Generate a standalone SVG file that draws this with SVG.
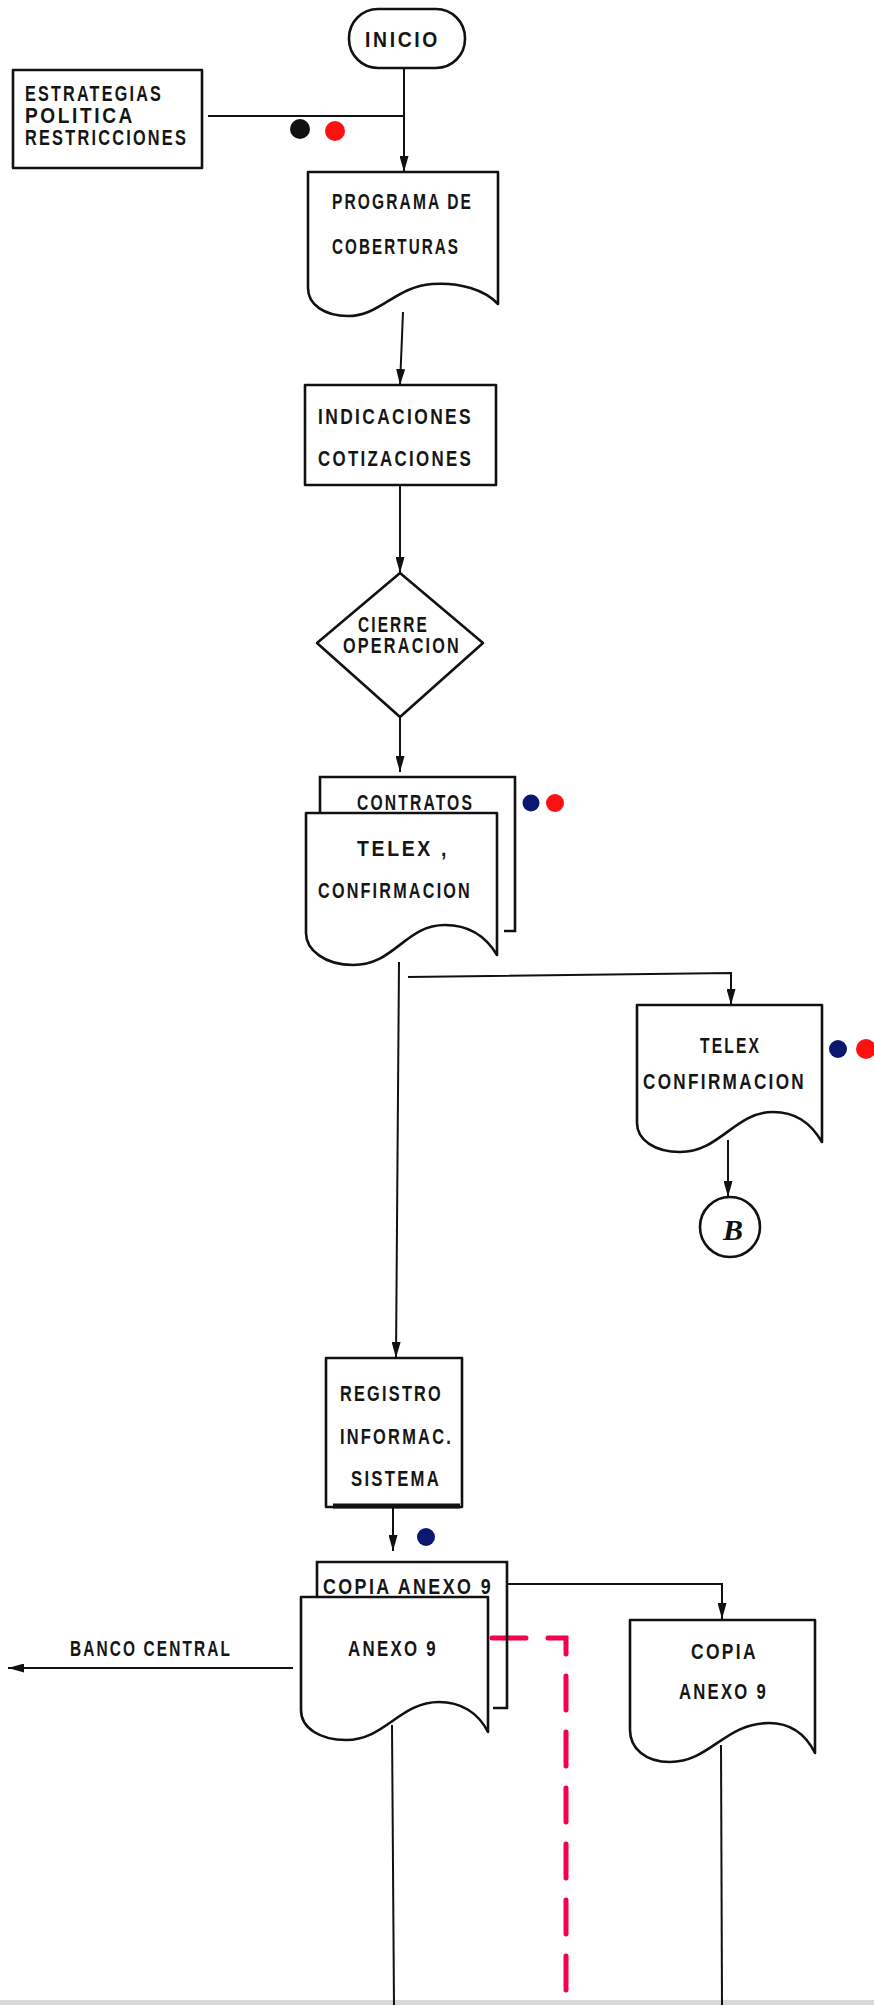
<svg xmlns="http://www.w3.org/2000/svg" width="874" height="2005" viewBox="0 0 874 2005">
<style>
.s{fill:#fff;stroke:#111;stroke-width:2.6;stroke-linejoin:round}
.o{fill:none;stroke:#111;stroke-width:2.6}
.c{fill:none;stroke:#111;stroke-width:2}
.t{font-family:"Liberation Sans","DejaVu Sans",sans-serif;font-size:22px;font-weight:bold;letter-spacing:3px;fill:#151515}
.rd{fill:none;stroke:#f5004a;stroke-width:5;stroke-dasharray:34 22;stroke-linecap:round}
</style>
<defs>
<marker id="ah" markerUnits="userSpaceOnUse" markerWidth="16" markerHeight="9" refX="16" refY="4.5" orient="auto">
<path d="M0,0 L16,4.5 L0,9 Z" fill="#111"/>
</marker>
</defs>
<rect width="874" height="2005" fill="#fff"/>
<rect x="0" y="2000" width="874" height="5" fill="#d8d8d8"/>

<g id="connectors">
<line class="c" x1="404" y1="68" x2="404" y2="172" marker-end="url(#ah)"/>
<line class="c" x1="208" y1="116" x2="404" y2="116"/>
<line class="c" x1="403" y1="312" x2="400" y2="385" marker-end="url(#ah)"/>
<line class="c" x1="400" y1="485" x2="400" y2="573" marker-end="url(#ah)"/>
<line class="c" x1="400" y1="717" x2="400" y2="772" marker-end="url(#ah)"/>
<line class="c" x1="399" y1="962" x2="396" y2="1358" marker-end="url(#ah)"/>
<polyline class="c" points="408,977 731,973 731,1005" marker-end="url(#ah)"/>
<line class="c" x1="728" y1="1140" x2="728" y2="1197" marker-end="url(#ah)"/>
<line class="c" x1="393" y1="1507" x2="393" y2="1551" marker-end="url(#ah)"/>
<polyline class="c" points="508,1584 722,1584 722,1619" marker-end="url(#ah)"/>
<line class="c" x1="293" y1="1668" x2="8" y2="1668" marker-end="url(#ah)"/>
<line class="c" x1="392" y1="1725" x2="394" y2="2005"/>
<line class="c" x1="721" y1="1745" x2="722" y2="2005"/>
<polyline class="rd" points="492,1638 566,1638 566,2010"/>
</g>

<g id="inicio">
<rect class="s" x="349" y="9" width="116" height="59" rx="29" ry="29"/>
<text class="t" x="365" y="47" font-size="24" textLength="75" lengthAdjust="spacingAndGlyphs">INICIO</text>
</g>

<g id="estrategias">
<rect class="s" x="13" y="70" width="189" height="98"/>
<text class="t" x="25" y="101" font-size="18" textLength="138" lengthAdjust="spacingAndGlyphs">ESTRATEGIAS</text>
<text class="t" x="25" y="123" font-size="18" textLength="110" lengthAdjust="spacingAndGlyphs">POLITICA</text>
<text class="t" x="25" y="145" font-size="18" textLength="163" lengthAdjust="spacingAndGlyphs">RESTRICCIONES</text>
</g>

<g id="dots1">
<circle cx="300" cy="129" r="10" fill="#111"/>
<circle cx="335" cy="131" r="10" fill="#ff1010"/>
</g>

<g id="programa">
<path class="s" d="M308,172 H498 V304 C485,290 460,282 432,284 C395,287 380,316 348,316 C325,316 308,305 308,288 Z"/>
<text class="t" x="332" y="209" textLength="141" lengthAdjust="spacingAndGlyphs">PROGRAMA DE</text>
<text class="t" x="332" y="254" textLength="128" lengthAdjust="spacingAndGlyphs">COBERTURAS</text>
</g>

<g id="indicaciones">
<rect class="s" x="305" y="385" width="191" height="100"/>
<text class="t" x="318" y="424" textLength="155" lengthAdjust="spacingAndGlyphs">INDICACIONES</text>
<text class="t" x="318" y="466" textLength="155" lengthAdjust="spacingAndGlyphs">COTIZACIONES</text>
</g>

<g id="cierre">
<polygon class="s" points="400,573 483,643 400,717 317,643"/>
<text class="t" x="358" y="632" font-size="20" textLength="71" lengthAdjust="spacingAndGlyphs">CIERRE</text>
<text class="t" x="343" y="653" font-size="20" textLength="118" lengthAdjust="spacingAndGlyphs">OPERACION</text>
</g>

<g id="contratos">
<polyline class="o" points="320,813 320,777 515,777 515,931 504,931"/>
<text class="t" x="357" y="810" textLength="117" lengthAdjust="spacingAndGlyphs">CONTRATOS</text>
<path class="s" d="M306,813 H497 V955 C485,935 468,925 445,925 C405,925 395,965 353,965 C325,965 306,950 306,933 Z"/>
<text class="t" x="357" y="856" font-size="24" textLength="92" lengthAdjust="spacingAndGlyphs">TELEX ,</text>
<text class="t" x="318" y="898" textLength="154" lengthAdjust="spacingAndGlyphs">CONFIRMACION</text>
</g>

<g id="dots2">
<circle cx="531" cy="803" r="8.5" fill="#0c1870"/>
<circle cx="555" cy="803" r="9" fill="#ff1010"/>
</g>

<g id="telex2">
<path class="s" d="M637,1005 H822 V1142 C810,1122 795,1112 773,1112 C735,1112 720,1152 680,1152 C655,1152 637,1140 637,1123 Z"/>
<text class="t" x="700" y="1053" textLength="61" lengthAdjust="spacingAndGlyphs">TELEX</text>
<text class="t" x="643" y="1089" textLength="163" lengthAdjust="spacingAndGlyphs">CONFIRMACION</text>
</g>

<g id="dots3">
<circle cx="838" cy="1049" r="9" fill="#0c1870"/>
<circle cx="866" cy="1049" r="10" fill="#ff1010"/>
</g>

<g id="conectorB">
<circle class="s" cx="730" cy="1227" r="30"/>
<text x="733" y="1240" text-anchor="middle" font-family="Liberation Serif,serif" font-style="italic" font-weight="bold" font-size="30" fill="#111">B</text>
</g>

<g id="registro">
<rect class="s" x="326" y="1358" width="136" height="149"/>
<line x1="333" y1="1506" x2="460" y2="1506" stroke="#111" stroke-width="5"/>
<text class="t" x="340" y="1401" textLength="103" lengthAdjust="spacingAndGlyphs">REGISTRO</text>
<text class="t" x="340" y="1444" textLength="113" lengthAdjust="spacingAndGlyphs">INFORMAC.</text>
<text class="t" x="351" y="1486" textLength="90" lengthAdjust="spacingAndGlyphs">SISTEMA</text>
</g>

<g id="dot4">
<circle cx="426" cy="1537" r="9" fill="#0c1870"/>
</g>

<g id="anexo9">
<polyline class="o" points="317,1597 317,1562 507,1562 507,1708 493,1708"/>
<text class="t" x="323" y="1594" textLength="170" lengthAdjust="spacingAndGlyphs">COPIA ANEXO 9</text>
<path class="s" d="M301,1597 H488 V1732 C478,1712 460,1702 439,1702 C400,1702 385,1740 346,1740 C320,1740 301,1728 301,1710 Z"/>
<text class="t" x="348" y="1656" textLength="90" lengthAdjust="spacingAndGlyphs">ANEXO 9</text>
</g>

<g id="banco">
<text class="t" x="70" y="1656" textLength="162" lengthAdjust="spacingAndGlyphs">BANCO CENTRAL</text>
</g>

<g id="copia">
<path class="s" d="M630,1620 H815 V1753 C805,1733 790,1723 769,1723 C725,1723 710,1762 670,1762 C645,1762 630,1748 630,1730 Z"/>
<text class="t" x="691" y="1659" textLength="67" lengthAdjust="spacingAndGlyphs">COPIA</text>
<text class="t" x="679" y="1699" textLength="89" lengthAdjust="spacingAndGlyphs">ANEXO 9</text>
</g>
</svg>
